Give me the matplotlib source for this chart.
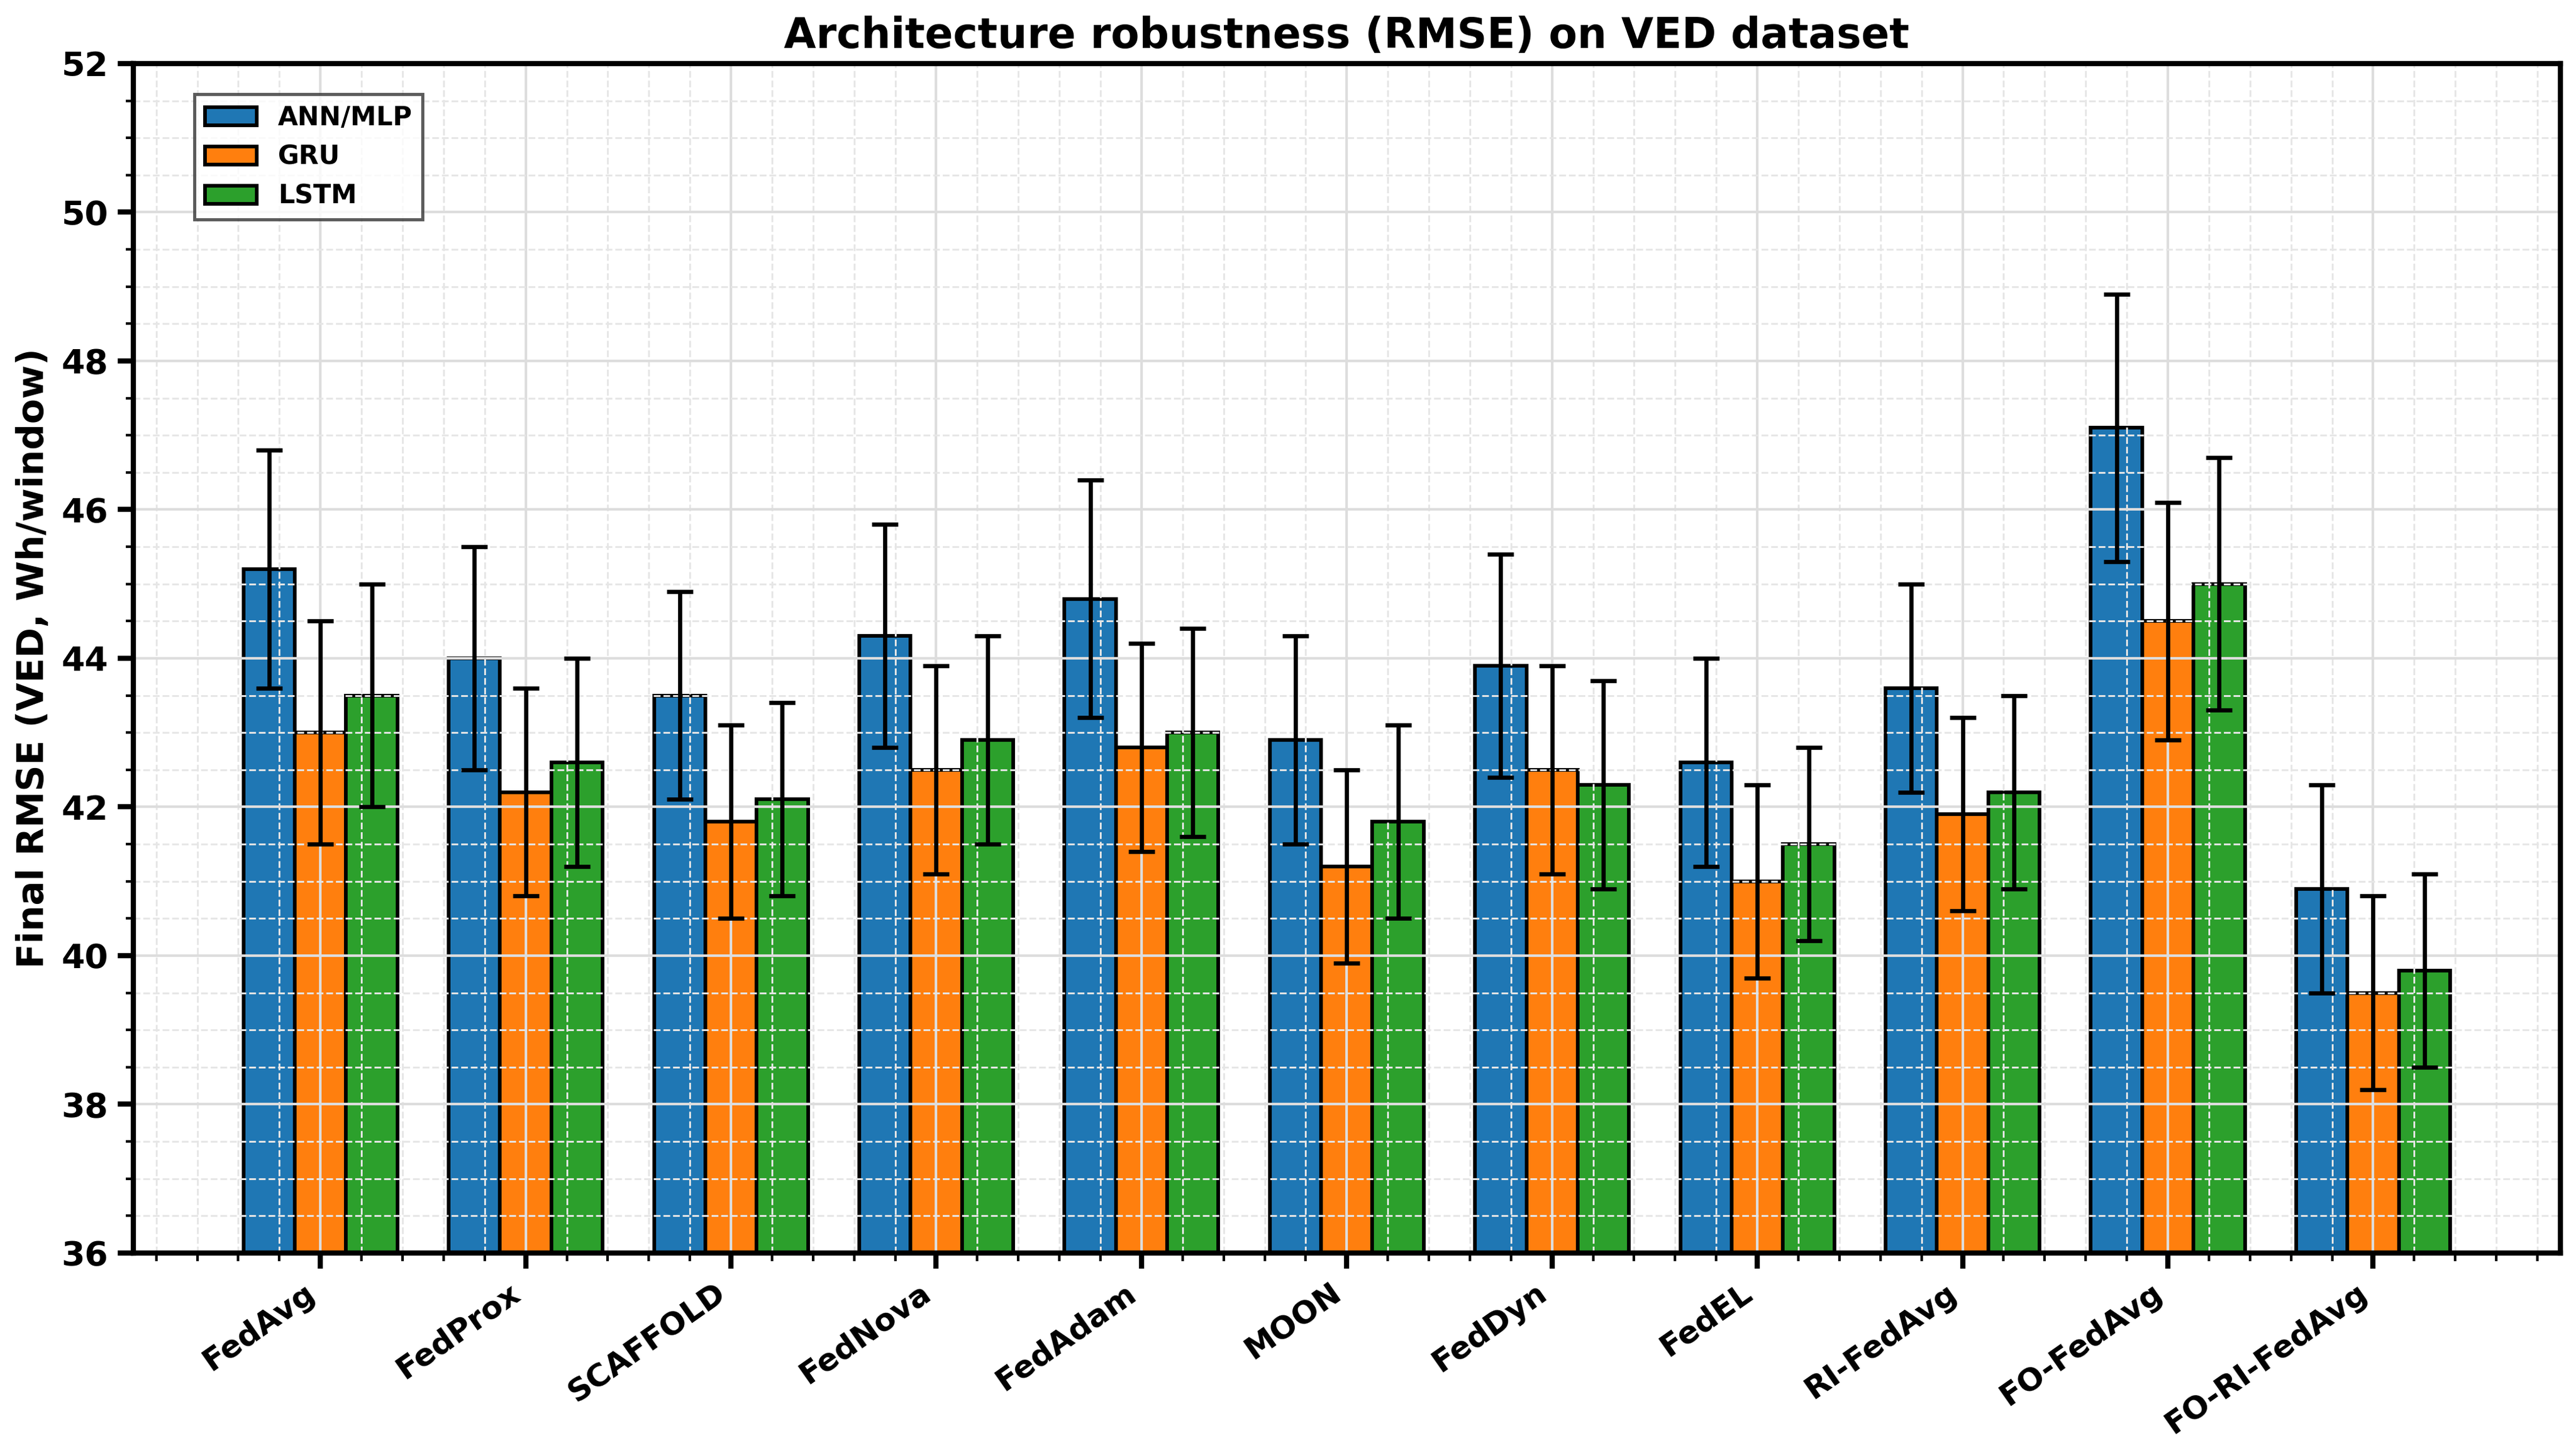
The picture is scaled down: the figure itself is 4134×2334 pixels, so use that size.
import matplotlib
matplotlib.use("Agg")
import matplotlib.pyplot as plt
import numpy as np
from matplotlib.ticker import AutoMinorLocator

methods = ["FedAvg", "FedProx", "SCAFFOLD", "FedNova", "FedAdam", "MOON",
           "FedDyn", "FedEL", "RI-FedAvg", "FO-FedAvg", "FO-RI-FedAvg"]

ann_mean = [45.2, 44.0, 43.5, 44.3, 44.8, 42.9, 43.9, 42.6, 43.6, 47.1, 40.9]
ann_std = [1.6, 1.5, 1.4, 1.5, 1.6, 1.4, 1.5, 1.4, 1.4, 1.8, 1.4]
gru_mean = [43.0, 42.2, 41.8, 42.5, 42.8, 41.2, 42.5, 41.0, 41.9, 44.5, 39.5]
gru_std = [1.5, 1.4, 1.3, 1.4, 1.4, 1.3, 1.4, 1.3, 1.3, 1.6, 1.3]
lstm_mean = [43.5, 42.6, 42.1, 42.9, 43.0, 41.8, 42.3, 41.5, 42.2, 45.0, 39.8]
lstm_std = [1.5, 1.4, 1.3, 1.4, 1.4, 1.3, 1.4, 1.3, 1.3, 1.7, 1.3]

series = [("ANN/MLP", ann_mean, ann_std, "#1f77b4"),
          ("GRU", gru_mean, gru_std, "#ff7f0e"),
          ("LSTM", lstm_mean, lstm_std, "#2ca02c")]

plt.rcParams["font.family"] = ["DejaVu Sans"]
plt.rcParams["font.weight"] = "bold"

fig, ax = plt.subplots(figsize=(13.78, 7.78), dpi=300)

x = np.arange(len(methods))
width = 0.25

for i, (name, mean, std, color) in enumerate(series):
    ax.bar(x + (i - 1) * width, mean, width, yerr=std, label=name,
           color=color, edgecolor="black", linewidth=1.4,
           error_kw=dict(ecolor="black", elinewidth=1.6, capsize=5, capthick=1.6))

ax.set_ylim(36, 52)
ax.set_xticks(x)
ax.set_xticklabels(methods, rotation=35, ha="right", fontsize=12, fontweight="bold")
ax.tick_params(axis="y", labelsize=13)
for lab in ax.get_yticklabels():
    lab.set_fontweight("bold")
ax.xaxis.set_minor_locator(AutoMinorLocator(5))
ax.yaxis.set_minor_locator(AutoMinorLocator(4))

ax.grid(True, which="major", color="#dddddd", linewidth=1.0)
ax.grid(True, which="minor", color="#e6e6e6", linestyle="--", linewidth=0.7)

ax.tick_params(which="major", width=2, length=6)
ax.tick_params(which="minor", width=1, length=3)
for sp in ax.spines.values():
    sp.set_linewidth(2)

ax.set_ylabel("Final RMSE (VED, Wh/window)", fontsize=14, fontweight="bold")
ax.set_title("Architecture robustness (RMSE) on VED dataset", fontsize=16, fontweight="bold")

leg = ax.legend(loc="upper left", bbox_to_anchor=(0.02, 0.985), fancybox=False,
                edgecolor="#333333", prop={"weight": "bold", "size": 10})
leg.get_frame().set_linewidth(1.2)

fig.tight_layout(pad=0.6)
fig.savefig("out.png", dpi=300)
